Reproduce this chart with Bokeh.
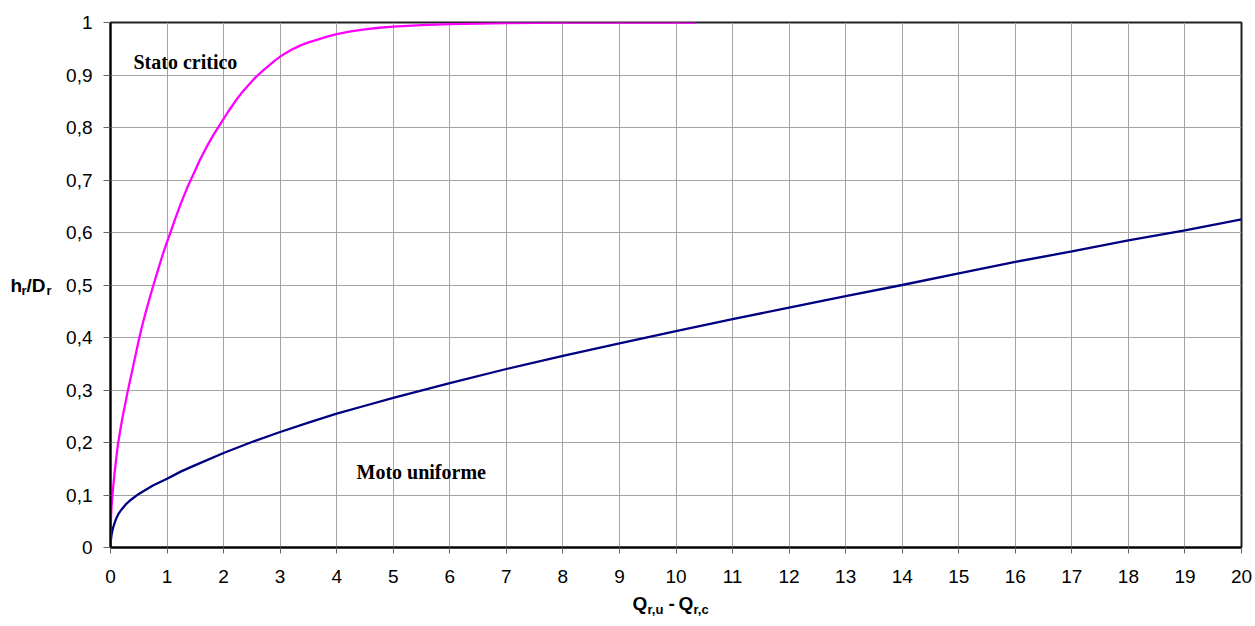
from bokeh.plotting import figure
from bokeh.models import Range1d, FixedTicker, CustomJSTickFormatter, Label
from bokeh.core.properties import value
from bokeh.embed import file_html
from bokeh.resources import INLINE

# ---- data ----
crit_x = [0, 0.003, 0.01, 0.02, 0.035, 0.05, 0.07, 0.1, 0.13, 0.17, 0.22, 0.3, 0.35, 0.4,
          0.45, 0.49, 0.55, 0.62, 0.7, 0.76, 0.83, 0.9, 0.98, 1.06, 1.15, 1.25, 1.36, 1.47,
          1.58, 1.7, 1.82, 1.95, 2.08, 2.2, 2.32, 2.45, 2.57, 2.69, 2.8, 2.9, 3.0, 3.1,
          3.2, 3.35, 3.5, 3.65, 3.8, 4.0, 4.25, 4.5, 4.75, 5.0, 5.5, 6.0, 6.5, 7.0, 8.0,
          9.0, 10.35]
crit_y = [0, 0.035, 0.06, 0.08, 0.10, 0.118, 0.14, 0.168, 0.195, 0.222, 0.252, 0.295, 0.32,
          0.345, 0.37, 0.39, 0.418, 0.447, 0.478, 0.50, 0.525, 0.55, 0.576, 0.60, 0.628,
          0.657, 0.686, 0.712, 0.738, 0.763, 0.786, 0.808, 0.83, 0.849, 0.866, 0.882,
          0.896, 0.908, 0.918, 0.927, 0.935, 0.942, 0.948, 0.956, 0.962, 0.967, 0.972,
          0.978, 0.983, 0.987, 0.99, 0.992, 0.995, 0.997, 0.998, 0.999, 1.0, 1.0, 1.0]

unif_x = [0, 0.003, 0.01, 0.02, 0.035, 0.05, 0.07, 0.1, 0.14, 0.2, 0.27, 0.35, 0.5, 0.75,
          1, 1.25, 1.5, 2, 2.5, 3, 3.5, 4, 4.5, 5, 6, 7, 8, 9, 10, 11, 12, 13, 14, 15,
          16, 17, 18, 19, 20]
unif_y = [0, 0.009, 0.017, 0.025, 0.033, 0.039, 0.046, 0.055, 0.064, 0.073, 0.082, 0.09,
          0.102, 0.118, 0.131, 0.145, 0.157, 0.18, 0.201, 0.22, 0.238, 0.255, 0.27, 0.285,
          0.313, 0.34, 0.365, 0.389, 0.412, 0.435, 0.457, 0.479, 0.50, 0.522, 0.544,
          0.564, 0.585, 0.604, 0.625]

x_ticks = list(range(0, 21))
y_ticks = [0, 0.1, 0.2, 0.3, 0.4, 0.5, 0.6, 0.7, 0.8, 0.9, 1.0]

# ---- layout constants (pixels) ----
W, H = 1255, 626
FL, FR, FT, FB = 110, 1241, 22, 547   # frame left/right/top/bottom
X0, X1, Y0, Y1 = 0, 20, 0, 1

def px2x(px):
    return X0 + (px - FL) * (X1 - X0) / (FR - FL)

def py2y(py):
    return Y0 + (FB - py) * (Y1 - Y0) / (FB - FT)

p = figure(width=W, height=H, output_backend="svg", toolbar_location=None,
           x_range=Range1d(X0, X1), y_range=Range1d(Y0, Y1),
           min_border_left=FL, min_border_right=W - FR,
           min_border_top=FT, min_border_bottom=H - FB)
p.background_fill_color = "white"
p.border_fill_color = "white"
p.outline_line_color = "#222222"
p.outline_line_width = 2

p.xaxis.ticker = FixedTicker(ticks=x_ticks)
p.yaxis.ticker = FixedTicker(ticks=y_ticks)
p.yaxis.formatter = CustomJSTickFormatter(
    code="const s = (Math.round(tick*10)/10).toString(); return s.replace('.', ',');")

for ax in (p.xaxis[0], p.yaxis[0]):
    ax.axis_line_color = "black"
    ax.axis_line_width = 2
    ax.major_tick_line_color = "#666666"
    ax.major_tick_line_width = 1
    ax.major_tick_in = 0
    ax.minor_tick_line_color = None
    ax.major_label_text_font = "Liberation Sans"
    ax.major_label_text_font_size = "19px"
    ax.major_label_text_color = "black"
    ax.axis_label = None
p.xaxis.major_tick_out = 6
p.xaxis.major_label_standoff = 16
p.yaxis.major_tick_out = 7
p.yaxis.major_label_standoff = 11

p.xgrid.ticker = FixedTicker(ticks=x_ticks)
p.ygrid.ticker = FixedTicker(ticks=y_ticks)
for g in (p.xgrid[0], p.ygrid[0]):
    g.grid_line_color = "#a4a4a4"
    g.grid_line_width = 1

p.line(unif_x, unif_y, line_color="#000080", line_width=2.3)
p.line(crit_x, crit_y, line_color="#FF00FF", line_width=2.3)

def lab(text, px, py, size, font="Liberation Sans", bold=True):
    p.add_layout(Label(x=px2x(px), y=py2y(py), text=text, x_units="data", y_units="data",
                       text_font=font, text_font_size=f"{size}px",
                       text_font_style="bold" if bold else "normal",
                       text_color="black", text_baseline="alphabetic", text_align="left"))

def labside(text, px, py, size, font="Liberation Sans", bold=True):
    p.add_layout(Label(x=px, y=py, text=text, x_units="canvas", y_units="canvas",
                       text_font=font, text_font_size=f"{size}px",
                       text_font_style="bold" if bold else "normal",
                       text_color="black", text_baseline="alphabetic", text_align="left"),
                 "left")

def txt(text, px, py, size, font="Liberation Sans", bold=True):
    r = p.text(x=[px2x(px)], y=[py2y(py)], text=[text], text_font=value(font),
               text_font_size=f"{size}px", text_font_style="bold" if bold else "normal",
               text_color="black", text_baseline="alphabetic", text_align="left")
    r.level = "overlay"

# annotations inside plot
lab("Stato critico", 133, 61, 20, font="Liberation Serif")
lab("Moto uniforme", 356, 471, 20, font="Liberation Serif")

# y axis label h_r/D_r
labside("h", 10, 285, 19)
labside("r", 21, 290, 13)
labside("/D", 26, 285, 19)
labside("r", 46, 290, 13)

# x axis label Q_r,u - Q_r,c
txt("Q", 632, 603, 19)
txt("r,u", 647, 609, 13)
txt("-", 668, 603, 19)
txt("Q", 678, 603, 19)
txt("r,c", 693, 609, 13)

open("out.html", "w").write(file_html(p, INLINE))
